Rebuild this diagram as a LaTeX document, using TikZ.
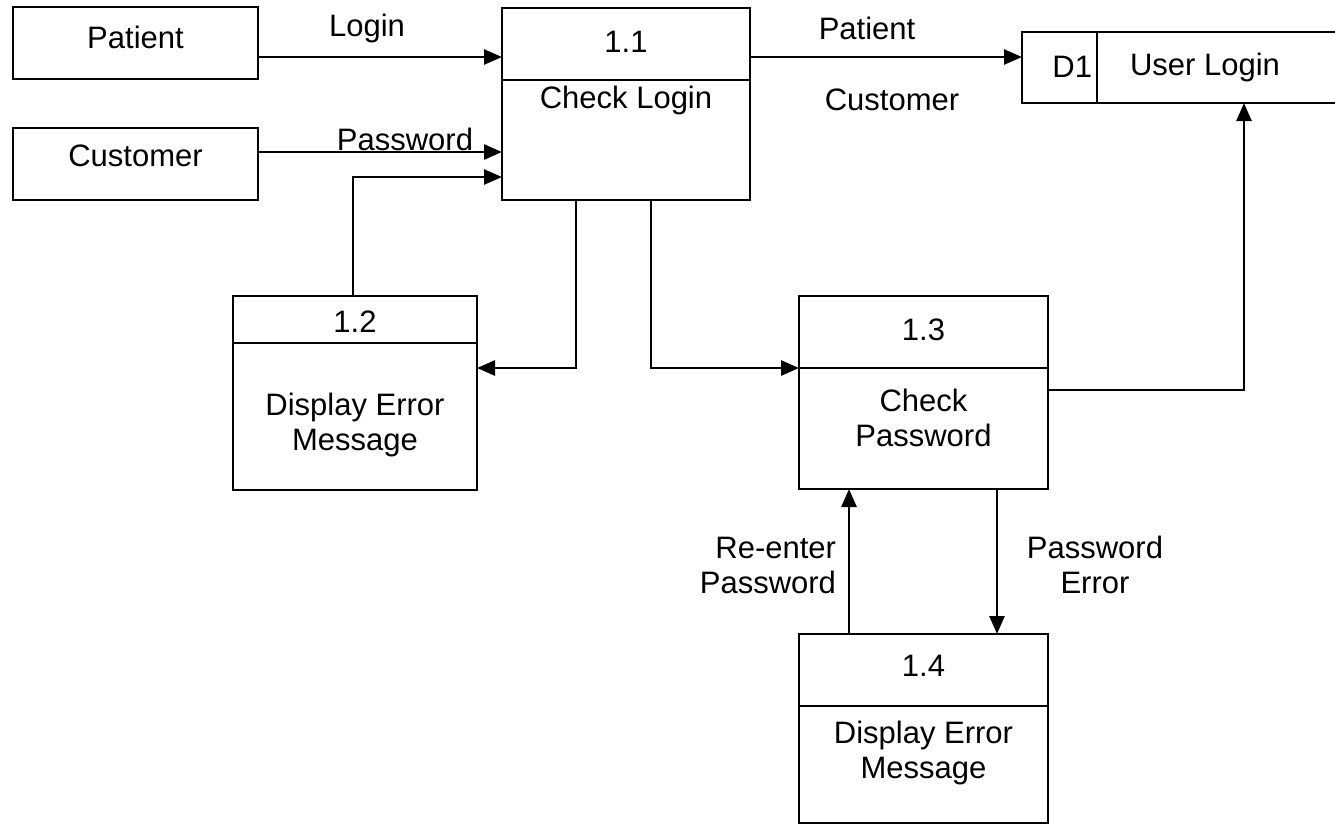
\documentclass[tikz,border=0pt]{standalone}
\usepackage{fontspec}
\setmainfont{Liberation Sans}
\usetikzlibrary{arrows.meta}
\begin{document}
\begin{tikzpicture}[x=0.5pt, y=-0.5pt,
  every node/.style={inner sep=0pt, outer sep=0pt},
  line/.style={line width=1.3pt},
  box/.style={draw, line width=1.3pt, rectangle},
  txt/.style={font=\fontsize{15.5}{17.5}\selectfont, align=center},
  flow/.style={line width=1.3pt, -{Triangle[length=9pt,width=7.5pt]}}]
\useasboundingbox (0,0) rectangle (1335,827);

% external entities
\node[box, minimum width=122.5pt, minimum height=36pt] (patient) at (135.5,43) {};
\node[txt] (patientlbl) at (135.5,37) {Patient};
\node[box, minimum width=122.5pt, minimum height=36pt] (customer) at (135.5,164) {};
\node[txt] (customerlbl) at (135.5,156) {Customer};

% process 1.1
\node[box, minimum width=124pt, minimum height=96pt] (p11) at (626,104) {};
\draw[line] (p11.west |- 0,80) -- (p11.east |- 0,80);
\node[txt] (p11num) at (626,42) {1.1};
\node[txt] (p11name) at (626,100) {Check Login};

% data store D1 (open on its right side)
\node[minimum width=156.5pt, minimum height=35.5pt] (d1) at (1178.5,67.5) {};
\draw[line] (d1.north east) -- (d1.north west) -- (d1.south west) -- (d1.south east);
\draw[line] (d1.north -| 1097,0) -- (d1.south -| 1097,0);
\node[txt, anchor=east] (d1id) at (1092,67) {D1};
\node[txt] (d1name) at (1205,67) {User Login};

% process 1.2
\node[box, minimum width=122pt, minimum height=97pt] (p12) at (355,393) {};
\draw[line] (p12.west |- 0,343) -- (p12.east |- 0,343);
\node[txt] (p12num) at (355,322) {1.2};
\node[txt] (p12name) at (355,425) {Display Error\\Message};

% process 1.3
\node[box, minimum width=124.5pt, minimum height=96.5pt] (p13) at (923.5,392.5) {};
\draw[line] (p13.west |- 0,368) -- (p13.east |- 0,368);
\node[txt] (p13num) at (923.5,330) {1.3};
\node[txt] (p13name) at (923.5,418) {Check\\Password};

% process 1.4
\node[box, minimum width=124.5pt, minimum height=94.5pt] (p14) at (923.5,728.5) {};
\draw[line] (p14.west |- 0,706) -- (p14.east |- 0,706);
\node[txt] (p14num) at (923.5,666) {1.4};
\node[txt] (p14name) at (923.5,753) {Display Error\\Message};

% data flows
\draw[flow] (patient.east |- 0,57) -- (p11.west |- 0,57);
\node[txt] (loginlbl) at (367,28) {Login};
\draw[flow] (customer.east |- 0,152) -- (p11.west |- 0,152);
\node[txt] (passlbl) at (405,139) {Password};
\draw[flow] (p12.north -| 353,0) |- (p11.west |- 0,177);
\draw[flow] (p11.south -| 576,0) |- (p12.east |- 0,368);
\draw[flow] (p11.south -| 651,0) |- (p13.west |- 0,368);
\draw[flow] (p11.east |- 0,57) -- (d1.west |- 0,57);
\node[txt] (patflow) at (867,28) {Patient};
\node[txt] (custflow) at (892,100) {Customer};
\draw[flow] (p13.east |- 0,390) -| (d1.south -| 1244,0);
\draw[flow] (p14.north -| 849,0) -- (p13.south -| 849,0);
\node[txt, align=right, anchor=east] (reenter) at (836,565) {Re-enter\\Password};
\draw[flow] (p13.south -| 997,0) -- (p14.north -| 997,0);
\node[txt] (pwerr) at (1095,565) {Password\\Error};
\end{tikzpicture}
\end{document}
